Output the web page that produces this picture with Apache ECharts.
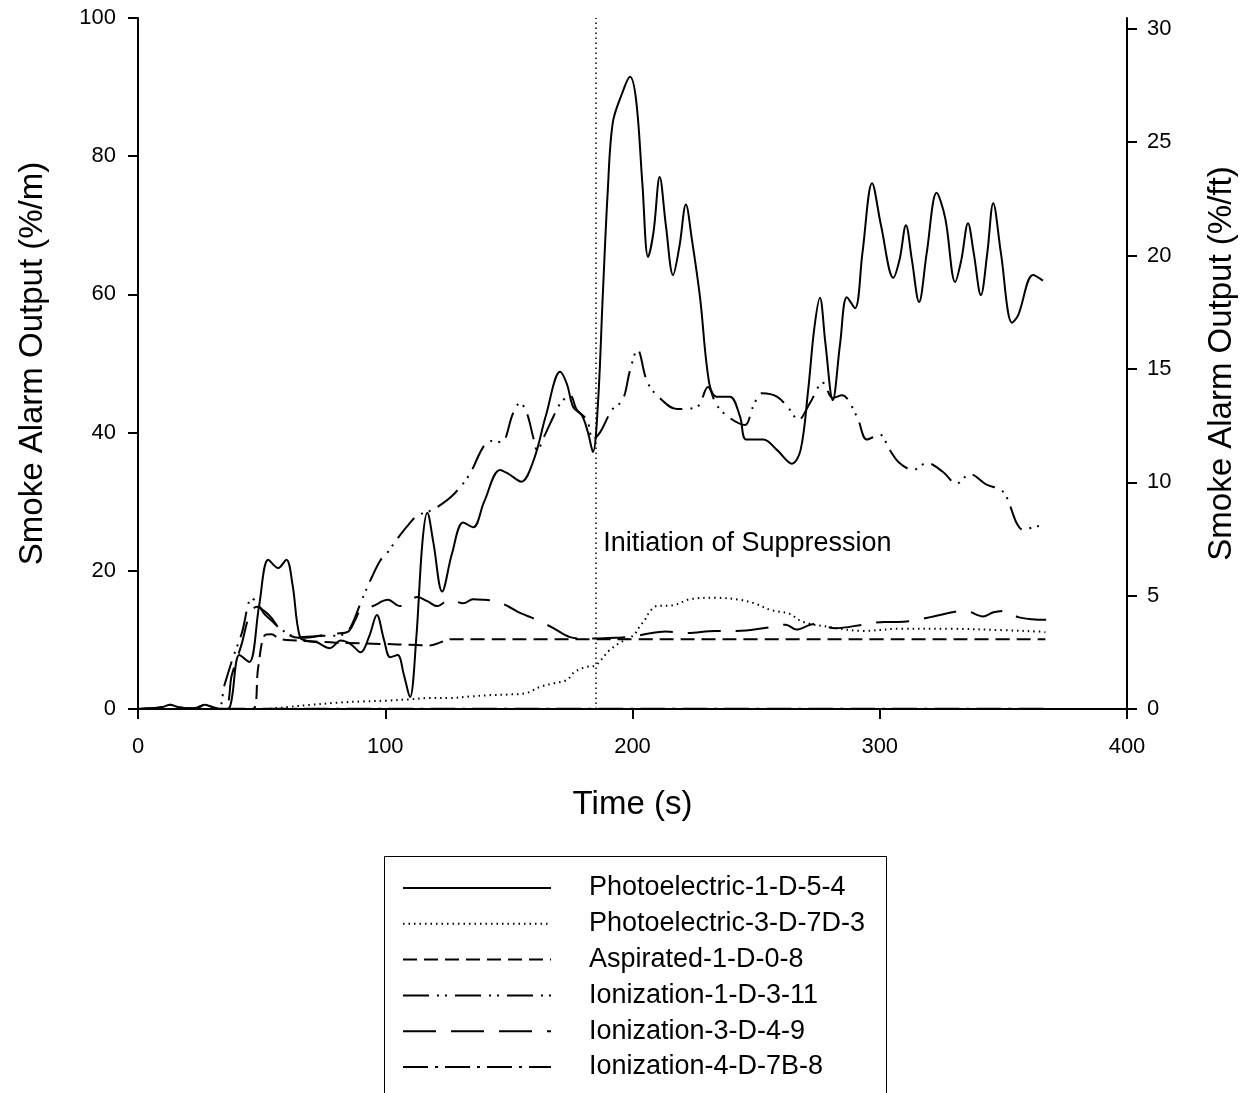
<!DOCTYPE html>
<html>
<head>
<meta charset="utf-8">
<script src="https://cdn.jsdelivr.net/npm/echarts@6/dist/echarts.min.js"></script>
<style>
html,body{margin:0;padding:0;background:#fff;}
#chart{width:1250px;height:1093px;}
</style>
</head>
<body>
<div id="chart"></div>
<script>
// ---- data: [time (s), smoke alarm output (%/m)] ----
var seriesNames = ['Photoelectric-1-D-5-4','Photoelectric-3-D-7D-3','Aspirated-1-D-0-8','Ionization-1-D-3-11','Ionization-3-D-4-9','Ionization-4-D-7B-8'];

var photo1 = [[0,0],[5,0.1],[10,0.3],[13,0.6],[16,0.3],[20,0.1],[24,0.2],[27,0.6],[30,0.3],[34,0],[37,0.2],[41,7.8],[45,6.8],[49,15],[52.7,21.6],[56.7,20.4],[60,21.6],[62.5,18],[65.5,10.4],[69,9.8],[72,9.7],[77.6,8.8],[82,9.9],[86,9.4],[90,8.2],[93.5,10.5],[96.6,13.6],[99.5,10],[102,7.5],[105,7.8],[107.5,5],[110,1.7],[112.5,10],[115,24],[117,28.4],[119.5,24],[123,17],[127,22.5],[131.5,27],[135.6,26.3],[140,30],[146.4,34.6],[150,34],[155,32.9],[160,36],[165,42.5],[170.7,48.8],[173.5,47],[176,43.7],[179.5,42.5],[182,40],[184,37.2],[186,44],[188,60],[190,75],[192,84.8],[195.7,89],[199,91.5],[201.5,88],[204,76],[206.3,65.4],[208.5,69],[211,77],[213.5,70],[216.4,62.8],[219,67],[221.6,73],[224,68],[227.3,59.6],[231,47.2],[234,45.2],[239.4,45.2],[243.5,42.3],[246,39],[253,39],[258.4,37.5],[264.5,35.5],[268,37.5],[271,46],[273.5,55],[275.8,59.5],[278,53],[281,44.7],[284,53],[286.7,59.6],[290,58],[293,66],[296.9,76.1],[300.5,70],[305.5,62.4],[308,65],[310.6,70],[313,65],[315.9,58.9],[319,66],[323,74.7],[326.5,71],[330.5,61.8],[333,65],[335.7,70.3],[338,66],[340.9,59.9],[343.5,66],[345.9,73.2],[349,66],[353.5,55.9],[356,57],[362,62.8],[366,62]];

var photo3 = [[0,0],[50,0],[55,0.1],[61,0.3],[70,0.6],[80,0.9],[91,1.1],[100,1.2],[110,1.4],[118,1.6],[126,1.6],[134,1.8],[142,2.0],[150,2.1],[157,2.3],[162.6,3.2],[168,3.7],[173.5,4.2],[176,5.2],[179,5.8],[181.6,6.1],[185,6.3],[187,7],[190.7,8.5],[195,9.6],[200.5,10.7],[203,12],[205,12.9],[207,14.1],[209.8,14.9],[216.3,15],[223.4,15.9],[233.5,16.1],[243.5,15.8],[249.2,15.3],[256.2,14.3],[263.3,13.8],[269,12.6],[279,11.9],[293.3,11.3],[307.5,11.6],[328.8,11.6],[350.2,11.4],[364.5,11.2],[367,11.1]];

var aspirated = [[0,0],[46.5,0],[48.6,6],[51.4,10.7],[54,10.8],[57,10.2],[60,10],[70,9.8],[80,9.6],[90,9.5],[100,9.4],[110,9.3],[118,9.2],[122,9.6],[126,10.1],[140,10.1],[160,10.1],[185,10.1],[200,10.1],[250,10.1],[300,10.1],[340,10.1],[367,10.1]];

var ion1 = [[0,0],[10,0],[20,0],[32,0],[35,3.5],[38.4,7.4],[42,11],[46,16],[48,15.5],[51,13.8],[54,12.8],[57,11.8],[61,10.8],[65,10.4],[70,10.5],[75,10.6],[80,10.6],[84,11],[86.5,12.2],[90,15.3],[94.6,19.1],[98,21.5],[100.6,22.5],[104.6,24.5],[109,26.5],[113,28],[117,28.5],[121,29.2],[127.5,31],[134,33.9],[139.6,37.9],[143,38.8],[147,38.6],[151.7,42.8],[154.5,44.3],[157.3,42.8],[159.8,39.4],[161.4,37.5],[165,40],[168,42.3],[171,44.3],[174.7,45.4],[177.5,43.3],[181.6,41.8],[184,39],[187,40.1],[191.7,43.3],[196,44.7],[199,49],[202,52],[206,47.3],[211,45],[218,43.4],[226,43.7],[230.5,46.6],[234,44],[239.4,42.1],[245.5,41.1],[248.7,43.7],[252.4,45.7],[258.4,45.2],[263.7,43.3],[267,41.8],[271.8,44.3],[277,47.2],[281,45],[284.7,45.4],[290.8,42.3],[294.8,39],[300,39.7],[304,37.5],[308,35.6],[313.5,34.6],[319,35.6],[325.6,34.3],[331,32.6],[336.5,34],[343,32.5],[350,31.4],[355.5,26.8],[358,25.9],[362,26.3],[366,26.6]];

var ion3 = [[0,0],[34,0],[38,5],[42,9.5],[45,13.5],[48,14.8],[51,14.2],[54,13.2],[57,11.7],[61,10.7],[65,10.3],[70,10.4],[75,10.7],[80,10.9],[85,11.2],[88,13],[90,14.3],[95,14.9],[101,15.8],[106,14.9],[113,16.2],[117,15.6],[121,14.9],[126,15.8],[131.6,15.3],[135.5,15.9],[140,15.8],[145,15.6],[150,14.8],[154.5,13.9],[161.4,12.9],[168,11.7],[174.7,10.4],[180,10.2],[185,10.2],[193,10.3],[200.7,10.5],[206,10.9],[213.5,11.2],[222,11],[233.4,11.3],[242,11.3],[255,11.8],[262,12.2],[266.3,11.5],[273.4,12.3],[282,11.7],[293.3,12.2],[301.8,12.6],[307.5,12.6],[315.3,12.9],[321.7,13.4],[334.6,14.2],[341.7,13.4],[346,14],[350.3,14.2],[356,13.3],[361.6,13],[367.3,12.9]];

var ion4 = [[0,0],[5,0.1],[10,0.3],[13,0.6],[16,0.3],[20,0.1],[24,0.2],[27,0.6],[30,0.3],[34,0.05],[60,0.05],[100,0.05],[150,0.05],[200,0.05],[250,0.05],[300,0.05],[367,0.05]];

var suppressionTime = 185;
var suppressionLabel = 'Initiation of Suppression';
var suppressionLabelPos = [188, 24];

var xTicks = [0, 100, 200, 300, 400];
var yLeftTicks = [0, 20, 40, 60, 80, 100];
var yRightTicks = [0, 5, 10, 15, 20, 25, 30];
var M_TO_FT = 0.3048;

var FONT = 'Liberation Sans, Arial, sans-serif';
var chart = echarts.init(document.getElementById('chart'), null, {renderer: 'canvas'});

var dashStyles = ['solid', [1.5, 4], [14, 7], [26, 8, 2, 6, 2, 8], [33, 15], [25, 7, 3, 7]];
var dataSets = [photo1, photo3, aspirated, ion1, ion3, ion4];

var series = dataSets.map(function (d, i) {
  return {
    name: seriesNames[i],
    type: 'line',
    data: d,
    symbol: 'none',
    smooth: 0.35,
    lineStyle: {color: '#000', width: 2, type: dashStyles[i]},
    itemStyle: {color: '#000'},
    z: 3
  };
});

// suppression marker
series.push({
  name: 'suppression',
  type: 'line',
  data: [],
  symbol: 'none',
  markLine: {
    silent: true,
    symbol: 'none',
    label: {show: false},
    lineStyle: {color: '#000', width: 1.5, type: [1.5, 3.5]},
    data: [{xAxis: suppressionTime}]
  },
  markPoint: {
    silent: true,
    symbol: 'rect',
    symbolSize: 1,
    itemStyle: {color: 'rgba(0,0,0,0)'},
    label: {show: true, position: 'right', distance: 0, formatter: suppressionLabel, color: '#000', fontSize: 27, fontFamily: FONT},
    data: [{coord: suppressionLabelPos}]
  }
});

var option = {
  backgroundColor: '#fff',
  animation: false,
  textStyle: {fontFamily: FONT, color: '#000'},
  grid: {left: 138, right: 123, top: 18, bottom: 384, containLabel: false},
  graphic: [{
    type: 'rect', left: 382, top: 854, silent: true,
    shape: {width: 502, height: 260},
    style: {fill: 'none', stroke: '#000', lineWidth: 1}
  }],
  legend: {
    data: seriesNames,
    orient: 'vertical',
    left: 383,
    top: 855,
    itemWidth: 148,
    itemHeight: 27,
    itemGap: 8.8,
    padding: [19.5, 19, 0, 19],
    textStyle: {fontSize: 27, lineHeight: 27, color: '#000', fontFamily: FONT, padding: [0, 0, 0, 33]},
    itemStyle: {color: 'rgba(0,0,0,0)', borderColor: 'rgba(0,0,0,0)', borderWidth: 0},
    selectedMode: false
  },
  xAxis: {
    type: 'value',
    min: xTicks[0], max: xTicks[xTicks.length - 1], interval: 100,
    name: 'Time (s)', nameLocation: 'middle', nameGap: 79,
    nameTextStyle: {fontSize: 33, color: '#000', fontFamily: FONT},
    axisLine: {show: true, lineStyle: {color: '#000', width: 2}},
    axisTick: {show: true, length: 10, lineStyle: {color: '#000', width: 2}},
    axisLabel: {fontSize: 22, color: '#000', margin: 27, fontFamily: FONT},
    splitLine: {show: false}
  },
  yAxis: [
    {
      type: 'value', position: 'left',
      min: yLeftTicks[0], max: yLeftTicks[yLeftTicks.length - 1], interval: 20,
      name: 'Smoke Alarm Output (%/m)', nameLocation: 'middle', nameGap: 89,
      nameTextStyle: {fontSize: 33, color: '#000', fontFamily: FONT},
      axisLine: {show: true, lineStyle: {color: '#000', width: 2}},
      axisTick: {show: true, length: 10, lineStyle: {color: '#000', width: 2}},
      axisLabel: {fontSize: 22, color: '#000', margin: 22, fontFamily: FONT},
      splitLine: {show: false}
    },
    {
      type: 'value', position: 'right',
      min: 0, max: 100 * M_TO_FT, interval: 5,
      name: 'Smoke Alarm Output (%/ft)', nameLocation: 'middle', nameGap: 78, nameRotate: 90,
      nameTextStyle: {fontSize: 33, color: '#000', fontFamily: FONT},
      axisLine: {show: true, lineStyle: {color: '#000', width: 2}},
      axisTick: {show: true, length: 10, lineStyle: {color: '#000', width: 2}},
      axisLabel: {fontSize: 22, color: '#000', margin: 20, fontFamily: FONT, showMaxLabel: false,
        formatter: function (v) { return yRightTicks.indexOf(v) >= 0 ? String(v) : ''; }},
      splitLine: {show: false}
    }
  ],
  series: series
};
chart.setOption(option);
</script>
</body>
</html>
